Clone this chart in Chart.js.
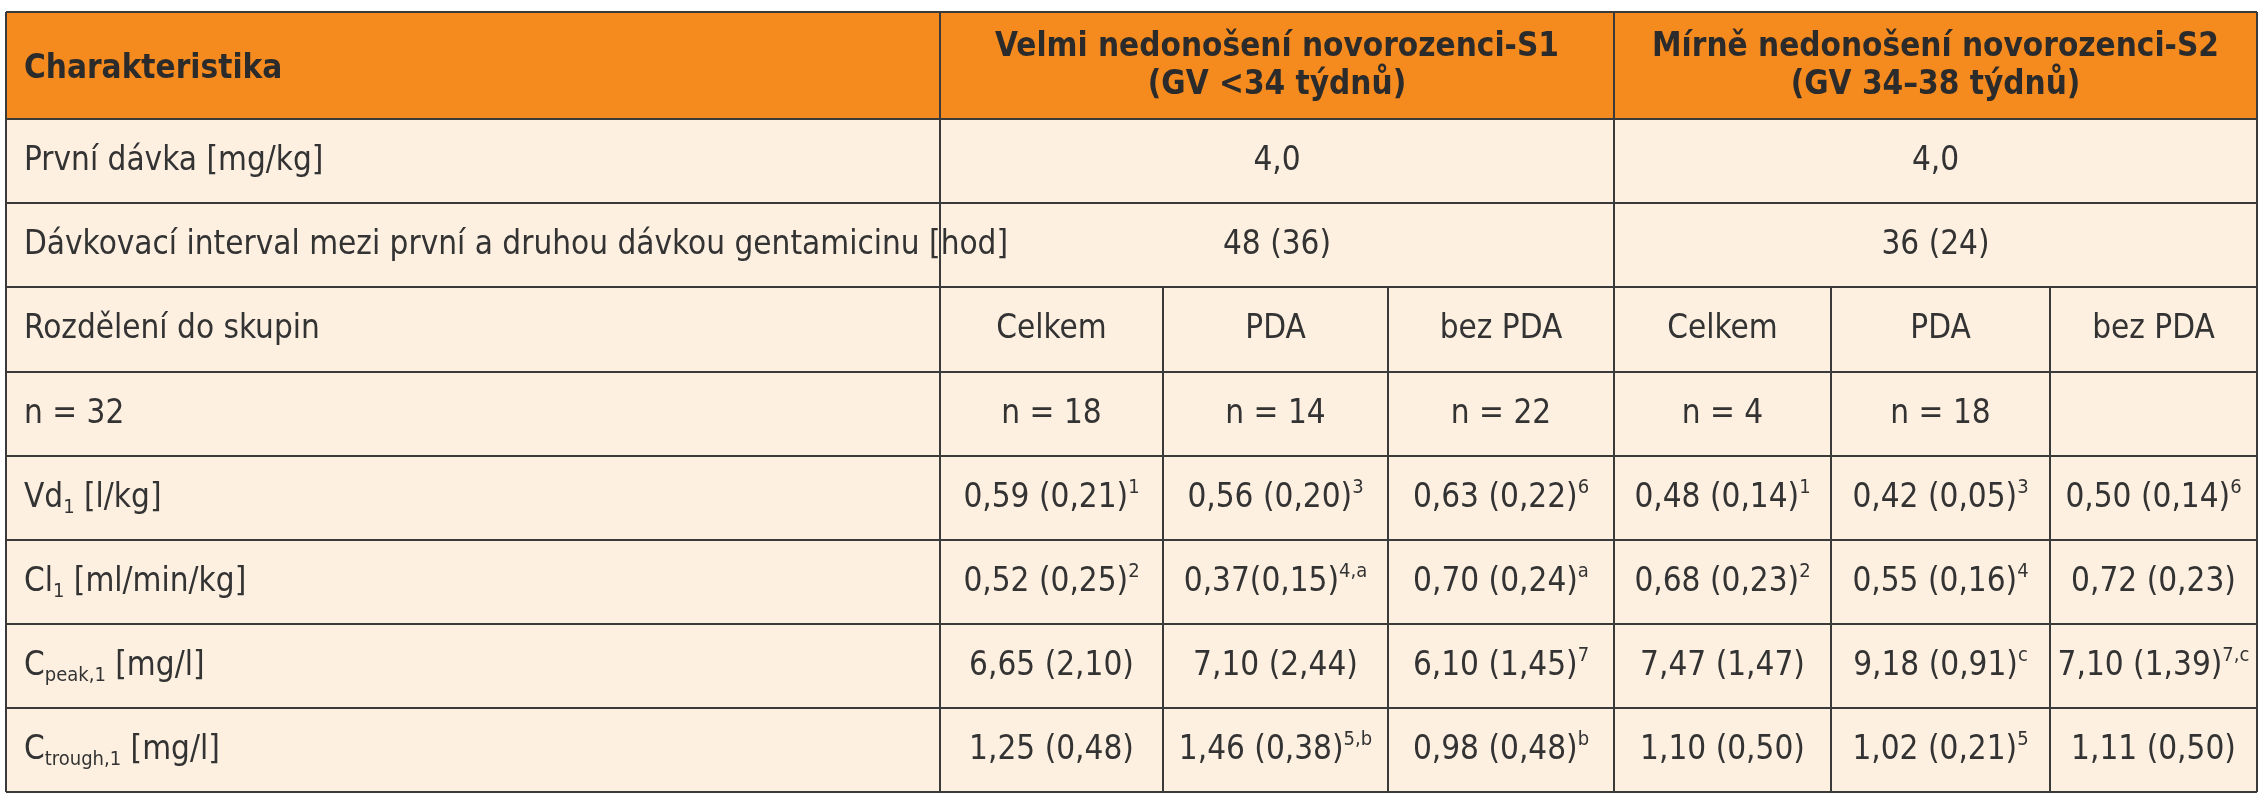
<!DOCTYPE html>
<html><head><meta charset="utf-8">
<script src="https://cdn.jsdelivr.net/npm/chart.js@4"></script>
<style>html,body{margin:0;padding:0;background:#fff}canvas{display:block}</style>
</head><body>
<canvas id="c" width="2259" height="800"></canvas>
<script>
// ---- data ----
const headerFirst = "Charakteristika";
const groupHeaders = [["Velmi nedonošení novorozenci-S1","(GV <34 týdnů)"],["Mírně nedonošení novorozenci-S2","(GV 34–38 týdnů)"]];
const rowLabels = ["První dávka [mg/kg]","Dávkovací interval mezi první a druhou dávkou gentamicinu [hod]","Rozdělení do skupin","n = 32","Vd_{1} [l/kg]","Cl_{1} [ml/min/kg]","C_{peak,1} [mg/l]","C_{trough,1} [mg/l]"];
const mergedRows = [["4,0","4,0"],["48 (36)","36 (24)"]];
const groupNames = ["Celkem","PDA","bez PDA","Celkem","PDA","bez PDA"];
const nValues = ["n = 18","n = 14","n = 22","n = 4","n = 18",""];
const vdValues = ["0,59 (0,21)^{1}","0,56 (0,20)^{3}","0,63 (0,22)^{6}","0,48 (0,14)^{1}","0,42 (0,05)^{3}","0,50 (0,14)^{6}"];
const clValues = ["0,52 (0,25)^{2}","0,37(0,15)^{4,a}","0,70 (0,24)^{a}","0,68 (0,23)^{2}","0,55 (0,16)^{4}","0,72 (0,23)"];
const cpeakValues = ["6,65 (2,10)","7,10 (2,44)","6,10 (1,45)^{7}","7,47 (1,47)","9,18 (0,91)^{c}","7,10 (1,39)^{7,c}"];
const ctroughValues = ["1,25 (0,48)","1,46 (0,38)^{5,b}","0,98 (0,48)^{b}","1,10 (0,50)","1,02 (0,21)^{5}","1,11 (0,50)"];

// ---- layout ----
const colEdges = [6,940,1163,1388,1614,1831,2050,2257];
const rowEdges = [12,119,203,287,372,456,540,624,708,792];
const FONT = '"Liberation Sans Narrow","DejaVu Sans Condensed",sans-serif';
const FS = 33;

function parseRich(s){
  const out=[]; const re=/(\^|_)\{([^}]*)\}/g; let last=0,m;
  while((m=re.exec(s))){ if(m.index>last) out.push([s.slice(last,m.index),'n']); out.push([m[2],m[1]==='^'?'sup':'sub']); last=re.lastIndex; }
  if(last<s.length) out.push([s.slice(last),'n']); return out;
}
function drawRich(ctx,s,x,y,align,bold){
  const segs=parseRich(s); const w=bold?'bold ':'';
  const fontFor=t=>t==='n'?`${w}${FS}px ${FONT}`:`${w}${Math.round(FS*0.6)}px ${FONT}`;
  let total=0; segs.forEach(([t,k])=>{ctx.font=fontFor(k); total+=ctx.measureText(t).width;});
  let cx = align==='left'?x:x-total/2;
  ctx.textBaseline='middle'; ctx.textAlign='left';
  segs.forEach(([t,k])=>{ctx.font=fontFor(k); const dy=k==='sup'?-FS*0.3:k==='sub'?FS*0.3:0; ctx.fillText(t,cx,y+dy); cx+=ctx.measureText(t).width;});
}

const tablePlugin={id:'table',afterDraw(chart){
  const ctx=chart.ctx, X=v=>chart.scales.x.getPixelForValue(v), Y=v=>chart.scales.y.getPixelForValue(v);
  const L=X(colEdges[0]),R=X(colEdges[7]),T=Y(rowEdges[0]),B=Y(rowEdges[9]);
  ctx.save();
  ctx.fillStyle='#f58a1f'; ctx.fillRect(L,T,R-L,Y(rowEdges[1])-T);
  ctx.fillStyle='#fdf0e1'; ctx.fillRect(L,Y(rowEdges[1]),R-L,B-Y(rowEdges[1]));
  ctx.strokeStyle='#3a3a3a'; ctx.lineWidth=2;
  const hl=(y,x0,x1)=>{ctx.beginPath();ctx.moveTo(X(x0),Y(y));ctx.lineTo(X(x1),Y(y));ctx.stroke();};
  const vl=(x,y0,y1)=>{ctx.beginPath();ctx.moveTo(X(x),Y(y0));ctx.lineTo(X(x),Y(y1));ctx.stroke();};
  rowEdges.forEach(y=>hl(y,colEdges[0],colEdges[7]));
  vl(colEdges[0],rowEdges[0],rowEdges[9]); vl(colEdges[7],rowEdges[0],rowEdges[9]);
  vl(colEdges[1],rowEdges[0],rowEdges[9]); vl(colEdges[4],rowEdges[0],rowEdges[9]);
  [2,3,5,6].forEach(i=>vl(colEdges[i],rowEdges[3],rowEdges[9]));
  const cy=r=>(Y(rowEdges[r])+Y(rowEdges[r+1]))/2;
  const cxs=c=>(X(colEdges[c])+X(colEdges[c+1]))/2;
  ctx.fillStyle='#2b2b2b';
  drawRich(ctx,headerFirst,X(colEdges[0])+18,cy(0)+4,'left',true);
  groupHeaders.forEach((g,i)=>{const xc=(X(colEdges[1+3*i])+X(colEdges[4+3*i]))/2;
    drawRich(ctx,g[0],xc,cy(0)-18,'center',true); drawRich(ctx,g[1],xc,cy(0)+20,'center',true);});
  ctx.fillStyle='#333';
  rowLabels.forEach((l,r)=>drawRich(ctx,l,X(colEdges[0])+18,cy(r+1),'left',false));
  mergedRows.forEach((vals,r)=>vals.forEach((v,i)=>drawRich(ctx,v,(X(colEdges[1+3*i])+X(colEdges[4+3*i]))/2,cy(r+1),'center',false)));
  [groupNames,nValues,vdValues,clValues,cpeakValues,ctroughValues].forEach((arr,k)=>arr.forEach((v,c)=>drawRich(ctx,v,cxs(c+1),cy(k+3),'center',false)));
  ctx.restore();
}};

new Chart(document.getElementById('c'),{
  type:'scatter',
  data:{datasets:[{data:[]}]},
  options:{responsive:false,animation:false,devicePixelRatio:1,
    layout:{padding:0},
    plugins:{legend:{display:false},tooltip:{enabled:false}},
    scales:{x:{type:'linear',min:0,max:2259,display:false},y:{type:'linear',min:0,max:800,reverse:true,display:false}}},
  plugins:[tablePlugin]
});
</script>
</body></html>
